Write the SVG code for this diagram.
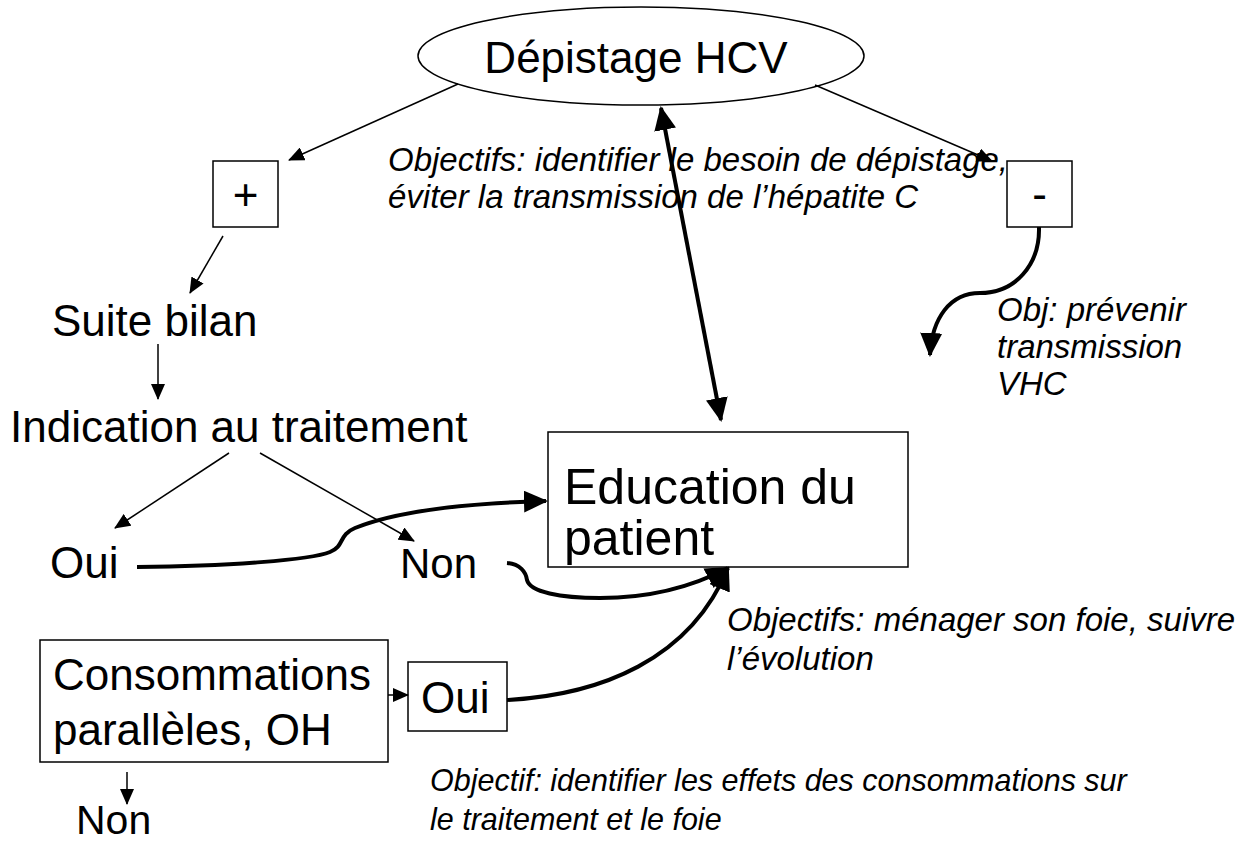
<svg xmlns="http://www.w3.org/2000/svg" width="1244" height="844" viewBox="0 0 1244 844">
<style>
.n{fill:#fff;stroke:#000;stroke-width:1.5}
.t{font-family:"Liberation Sans",Arial,sans-serif;font-size:44px;fill:#000}
.i{font-family:"Liberation Sans",Arial,sans-serif;font-size:33px;font-style:italic;fill:#000}
.thin{fill:none;stroke:#000;stroke-width:1.5}
.thick{fill:none;stroke:#000;stroke-width:4}
</style>
<defs>
<marker id="a" markerUnits="userSpaceOnUse" markerWidth="16" markerHeight="14" refX="15" refY="7" orient="auto"><path d="M0,0 L16,7 L0,14 z" fill="#000"/></marker>
<marker id="A" markerUnits="userSpaceOnUse" markerWidth="24" markerHeight="22" refX="22" refY="11" orient="auto"><path d="M0,0 L24,11 L0,22 z" fill="#000"/></marker>
<marker id="As" markerUnits="userSpaceOnUse" markerWidth="24" markerHeight="22" refX="2" refY="11" orient="auto"><path d="M24,0 L0,11 L24,22 z" fill="#000"/></marker>
</defs>
<rect width="1244" height="844" fill="#fff"/>
<g id="depistage"><ellipse class="n" cx="641" cy="56" rx="223" ry="49"/><text class="t" x="636" y="73" text-anchor="middle">Dépistage HCV</text></g>
<g id="plus"><rect class="n" x="213" y="161" width="65" height="66"/><text class="t" x="245.5" y="210" text-anchor="middle">+</text></g>
<g id="minus"><rect class="n" x="1007" y="161" width="65" height="66"/><text class="t" x="1039.5" y="209" text-anchor="middle">-</text></g>
<g id="suite"><text class="t" x="52" y="336">Suite bilan</text></g>
<g id="indication"><text class="t" x="10" y="442">Indication au traitement</text></g>
<g id="oui1"><text class="t" x="50" y="578">Oui</text></g>
<g id="non1"><text class="t" style="font-size:42px" x="400" y="578">Non</text></g>
<g id="education"><rect class="n" x="548" y="432" width="360" height="135"/><text class="t" style="font-size:50px" x="564" y="504">Education du</text><text class="t" style="font-size:50px" x="564" y="555">patient</text></g>
<g id="consommations"><rect class="n" x="40" y="640" width="348" height="122"/><text class="t" x="53" y="690">Consommations</text><text class="t" x="53" y="745">parallèles, OH</text></g>
<g id="oui2"><rect class="n" x="408" y="662" width="99" height="69"/><text class="t" x="421" y="713">Oui</text></g>
<g id="non2"><text class="t" style="font-size:41px" x="76" y="834">Non</text></g>
<g id="labels">
<text class="i" x="388" y="171">Objectifs: identifier le besoin de dépistage,</text>
<text class="i" x="388" y="208">éviter la transmission de l’hépatite C</text>
<text class="i" x="997" y="321">Obj: prévenir</text>
<text class="i" x="997" y="358">transmission</text>
<text class="i" x="997" y="395">VHC</text>
<text class="i" x="727" y="631">Objectifs: ménager son foie, suivre</text>
<text class="i" x="727" y="670">l’évolution</text>
<text class="i" style="font-size:30.5px" x="430" y="791">Objectif: identifier les effets des consommations sur</text>
<text class="i" style="font-size:30.5px" x="430" y="830">le traitement et le foie</text>
</g>
<g id="connectors">
<line class="thin" x1="458" y1="84" x2="289" y2="160" marker-end="url(#a)"/>
<line class="thin" x1="815" y1="85" x2="992" y2="161" marker-end="url(#a)"/>
<line class="thick" x1="661" y1="108" x2="721" y2="420" marker-start="url(#As)" marker-end="url(#A)"/>
<path class="thick" d="M1039,227 C1040,265 1015,293 980,293 C950,293 932,318 930,355" marker-end="url(#A)"/>
<line class="thin" x1="223" y1="236" x2="190" y2="293" marker-end="url(#a)"/>
<line class="thin" x1="158" y1="344" x2="158" y2="399" marker-end="url(#a)"/>
<line class="thin" x1="229" y1="453" x2="115" y2="528" marker-end="url(#a)"/>
<line class="thin" x1="260" y1="453" x2="414" y2="541" marker-end="url(#a)"/>
<path class="thick" d="M137,567 C230,566 310,560 330,552 C345,546 338,535 355,528 C400,510 470,503 546,501" marker-end="url(#A)"/>
<path class="thick" d="M507,563 C520,564 526,572 527,580 C530,592 560,598 600,598 C650,598 690,588 728,568" marker-end="url(#A)"/>
<path class="thick" d="M507,700 C600,695 690,660 728,568" marker-end="url(#A)"/>
<line class="thin" x1="388" y1="695" x2="408" y2="695" marker-end="url(#a)"/>
<line class="thin" x1="127" y1="772" x2="127" y2="804" marker-end="url(#a)"/>
</g>
</svg>
